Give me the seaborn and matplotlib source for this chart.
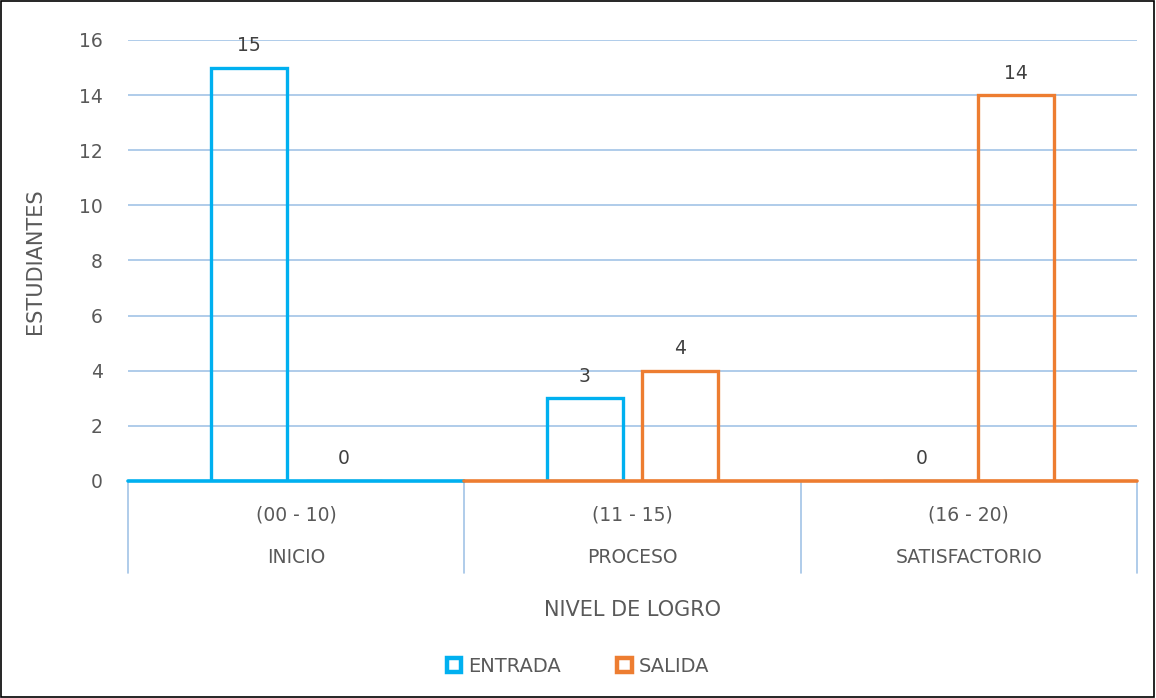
import matplotlib
matplotlib.use("Agg")
import matplotlib.pyplot as plt
import matplotlib.transforms as mtransforms
from matplotlib.patches import Rectangle
import pandas as pd
import seaborn as sns

niveles = ["INICIO", "PROCESO", "SATISFACTORIO"]
rangos = ["(00 - 10)", "(11 - 15)", "(16 - 20)"]
series = ["ENTRADA", "SALIDA"]
entrada = [15, 3, 0]
salida = [0, 4, 14]
colores = {"ENTRADA": "#00B0F0", "SALIDA": "#ED7D31"}

df = pd.DataFrame({
    "nivel": niveles * 2,
    "grupo": ["ENTRADA"] * 3 + ["SALIDA"] * 3,
    "estudiantes": entrada + salida,
})

sns.set_style("white")
plt.rcParams["font.family"] = ["DejaVu Sans"]
txt = "#595959"
grid_c = "#A2C4E6"
fs = 13.5

fig = plt.figure(figsize=(11.56, 6.98), dpi=100)
ax = fig.add_axes([0.1107, 0.3109, 0.8729, 0.6318])

sns.barplot(data=df, x="nivel", y="estudiantes", hue="grupo", order=niveles,
            hue_order=series, palette=colores, fill=False, width=0.565, gap=0.2,
            linewidth=2.4, legend=False, ax=ax, zorder=3)

ax.set_ylim(0, 16)
ax.set_xlim(-0.5, 2.5)
ax.set_yticks(range(0, 17, 2))
ax.yaxis.grid(True, color=grid_c, linewidth=1.2, zorder=0)
ax.set_axisbelow(True)
for s in ax.spines.values():
    s.set_visible(False)
ax.tick_params(axis="y", length=0, labelsize=fs, labelcolor=txt, pad=18)
ax.tick_params(axis="x", length=0, labelsize=fs, labelcolor=txt, pad=18)
ax.set_xticks(range(len(niveles)))
ax.set_xticklabels(rangos)
ax.set_xlabel("")
ax.set_ylabel("")

# value labels
for cont in ax.containers:
    ax.bar_label(cont, padding=9, fontsize=fs, color="#404040")

# baseline (zero bars drawn Excel style)
ax.plot([-0.5, 0.5], [0, 0], color=colores["ENTRADA"], lw=2.6, zorder=4, clip_on=False)
ax.plot([0.5, 2.5], [0, 0], color=colores["SALIDA"], lw=2.6, zorder=4, clip_on=False)

# category dividers and second-level labels
trans = mtransforms.blended_transform_factory(ax.transData, ax.transAxes)
for xb in [-0.5, 0.5, 1.5, 2.5]:
    ax.plot([xb, xb], [0, -0.209], color=grid_c, lw=1.2, transform=trans, clip_on=False)
for i, nombre in enumerate(niveles):
    ax.text(i, -0.174, nombre, transform=trans, ha="center", va="center",
            fontsize=fs, color=txt)

fig.text(632 / 1156, 1 - 610 / 698, "NIVEL DE LOGRO", ha="center", va="center",
         fontsize=15, color=txt)
fig.text(35 / 1156, 1 - 261 / 698, "ESTUDIANTES", ha="center", va="center",
         rotation=90, fontsize=15, color=txt)

handles = [Rectangle((0, 0), 1, 1, fill=False, edgecolor=colores[s], lw=3.2) for s in series]
fig.legend(handles, series, loc="center", bbox_to_anchor=(578 / 1156, 1 - 666 / 698),
           ncol=2, frameon=False, fontsize=14, handlelength=0.75, handleheight=0.75,
           handletextpad=0.35, columnspacing=2.9, labelcolor=txt)

fig.add_artist(Rectangle((0.0005, 0.001), 0.998, 0.998, transform=fig.transFigure,
                         fill=False, edgecolor="black", lw=1.2))

fig.savefig("out.png", dpi=100, facecolor="white")
